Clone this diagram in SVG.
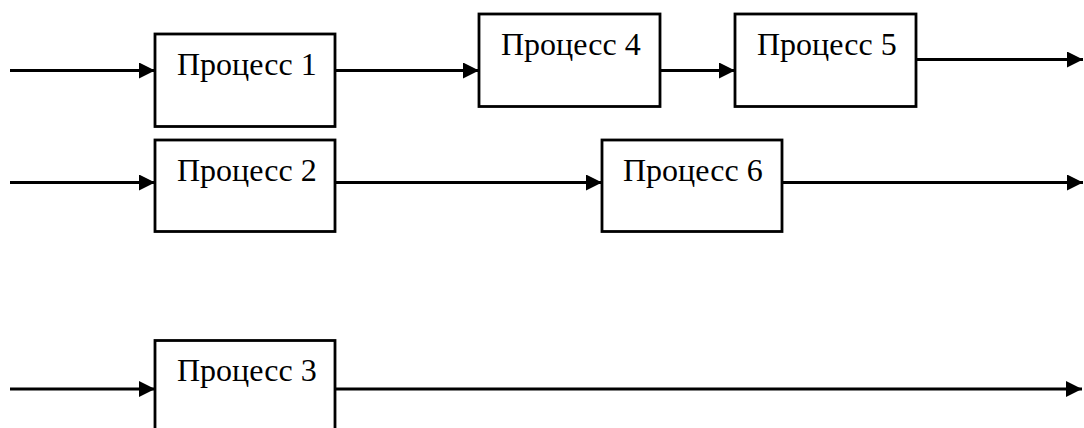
<svg xmlns="http://www.w3.org/2000/svg" width="1084" height="428" viewBox="0 0 1084 428">
  <style>
    .box { fill: #ffffff; stroke: #000000; stroke-width: 2.8; }
    .lbl { font-family: "Liberation Serif", "Times New Roman", serif; font-size: 32px; fill: #000000; }
    .flow { fill: none; stroke: #000000; stroke-width: 3; marker-end: url(#arrow); }
  </style>
  <defs>
    <marker id="arrow" markerUnits="userSpaceOnUse" markerWidth="18" markerHeight="16" refX="16" refY="8" orient="auto">
      <path d="M0,0 L16,8 L0,16 Z" fill="#000000"/>
    </marker>
  </defs>
  <rect width="1084" height="428" fill="#ffffff"/>

  <!-- flow lines between processes -->
  <g id="connectors">
    <line class="flow" x1="10" y1="70.5" x2="155" y2="70.5"/>
    <line class="flow" x1="335" y1="70.5" x2="479" y2="70.5"/>
    <line class="flow" x1="660" y1="70.5" x2="735" y2="70.5"/>
    <line class="flow" x1="916" y1="59.5" x2="1083" y2="59.5"/>
    <line class="flow" x1="10" y1="182.5" x2="155" y2="182.5"/>
    <line class="flow" x1="335" y1="182.5" x2="602" y2="182.5"/>
    <line class="flow" x1="782" y1="182.5" x2="1083" y2="182.5"/>
    <line class="flow" x1="10" y1="389" x2="155" y2="389"/>
    <line class="flow" x1="335" y1="389" x2="1082" y2="389"/>
  </g>

  <g id="process1">
    <rect class="box" x="155" y="34" width="180" height="92.5"/>
    <text class="lbl" x="177" y="75">Процесс 1</text>
  </g>
  <g id="process2">
    <rect class="box" x="155" y="140" width="180" height="91.5"/>
    <text class="lbl" x="177" y="181">Процесс 2</text>
  </g>
  <g id="process3">
    <rect class="box" x="155" y="340.5" width="180" height="100"/>
    <text class="lbl" x="177" y="381">Процесс 3</text>
  </g>
  <g id="process4">
    <rect class="box" x="479" y="14" width="181" height="92.5"/>
    <text class="lbl" x="501" y="55">Процесс 4</text>
  </g>
  <g id="process5">
    <rect class="box" x="735" y="14" width="181" height="92.5"/>
    <text class="lbl" x="757" y="55">Процесс 5</text>
  </g>
  <g id="process6">
    <rect class="box" x="602" y="140" width="180" height="91.5"/>
    <text class="lbl" x="623" y="181">Процесс 6</text>
  </g>
</svg>
